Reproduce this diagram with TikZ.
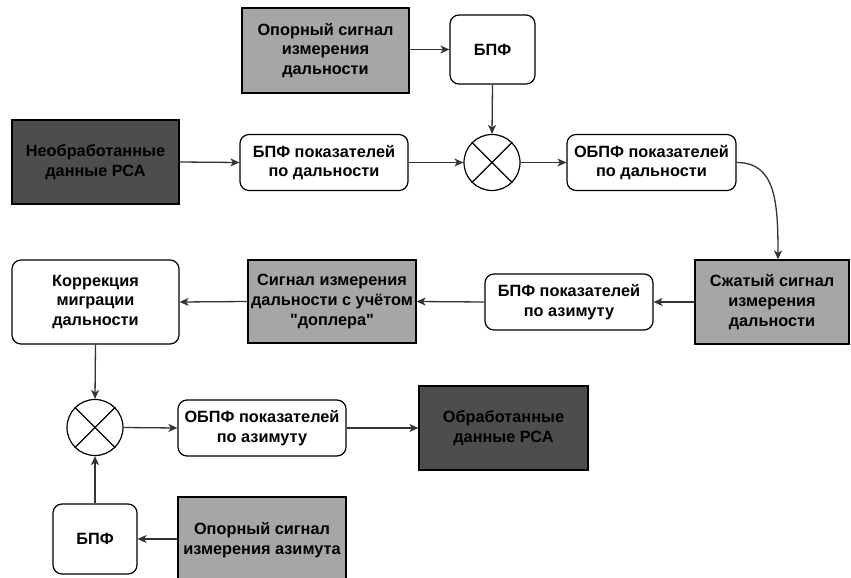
\documentclass[tikz,border=0pt]{standalone}
\usepackage{fontspec}
\setmainfont{Liberation Sans}[Ligatures=TeXOff]
\usetikzlibrary{arrows.meta}
\definecolor{boxgray}{HTML}{A6A6A6}
\definecolor{boxdark}{HTML}{4D4D4D}
\definecolor{linegray}{HTML}{333333}
\tikzset{
  base/.style={draw=black, line width=1.2pt, align=center, inner sep=2pt,
    font=\fontsize{16.3}{19.8}\selectfont\bfseries, text=black},
  roundbox/.style={base, rounded corners=9pt, fill=white},
  graybox/.style={base, fill=boxgray},
  darkbox/.style={base, fill=boxdark, text=black},
  mixer/.style={draw=black, line width=1.2pt, circle, minimum size=56pt, inner sep=0pt},
  conn/.style={draw=linegray, line width=1.3pt, -{Stealth[length=9pt,width=8pt,inset=2.5pt]}},
}
\begin{document}
\begin{tikzpicture}[x=1pt,y=-1pt]
\useasboundingbox (0,0) rectangle (851,578);
% top row
\node[graybox, minimum width=167pt, minimum height=85pt] (op1) at (325.5,50.5) {Опорный сигнал\\измерения\\дальности};
\node[roundbox, minimum width=85pt, minimum height=69pt] (fft1) at (492.5,49.5) {БПФ};
% second row
\node[darkbox, minimum width=167pt, minimum height=84pt] (raw) at (95.5,162) {Необработанные\\данные РСА};
\node[roundbox, minimum width=168pt, minimum height=56pt] (fftr) at (324,162.5) {БПФ показателей\\по дальности};
\node[mixer] (mix1) at (492,162.5) {};
\node[roundbox, minimum width=169pt, minimum height=56pt] (ifftr) at (651.5,162.5) {ОБПФ показателей\\по дальности};
% third row
\node[graybox, minimum width=154pt, minimum height=84pt] (comp) at (772,302) {Сжатый сигнал\\измерения\\дальности};
\node[roundbox, minimum width=168pt, minimum height=56pt] (ffta) at (569,302) {БПФ показателей\\по азимуту};
\node[graybox, minimum width=168pt, minimum height=83pt] (dop) at (332,301.5) {Сигнал измерения\\дальности с учётом\\"доплера"};
\node[roundbox, minimum width=167pt, minimum height=84pt] (corr) at (95.5,302) {Коррекция\\миграции\\дальности};
% fourth row
\node[mixer] (mix2) at (95,427.5) {};
\node[roundbox, minimum width=168pt, minimum height=56pt] (iffta) at (262,428) {ОБПФ показателей\\по азимуту};
\node[darkbox, minimum width=169pt, minimum height=84pt] (out) at (503.5,428) {Обработанные\\данные РСА};
% bottom row
\node[roundbox, minimum width=84pt, minimum height=70pt] (fft2) at (95,539) {БПФ};
\node[graybox, minimum width=168pt, minimum height=86pt] (op2) at (262,540) {Опорный сигнал\\измерения азимута};
% mixer crosses
\foreach \m in {mix1,mix2}{
  \draw[line width=1.2pt] (\m.45) -- (\m.225);
  \draw[line width=1.2pt] (\m.135) -- (\m.-45);
}
% connectors
\draw[conn] (op1.east |- fft1.west) -- (fft1.west);
\draw[conn] (fft1.south) -- (mix1.north);
\draw[conn] (raw.east) -- (fftr.west);
\draw[conn] (fftr.east) -- (mix1.west);
\draw[conn] (mix1.east) -- (ifftr.west);
\draw[conn] (ifftr.east) .. controls (775,162.5) and (778,200) .. (comp.north -| 778,0);
\draw[conn] (comp.west) -- (ffta.east);
\draw[conn] (ffta.west) -- (dop.east);
\draw[conn] (dop.west) -- (corr.east);
\draw[conn] (corr.south) -- (mix2.north);
\draw[conn] (mix2.east) -- (iffta.west);
\draw[conn] (iffta.east) -- (out.west);
\draw[conn] (op2.west |- fft2.east) -- (fft2.east);
\draw[conn] (fft2.north) -- (mix2.south);
\end{tikzpicture}
\end{document}
